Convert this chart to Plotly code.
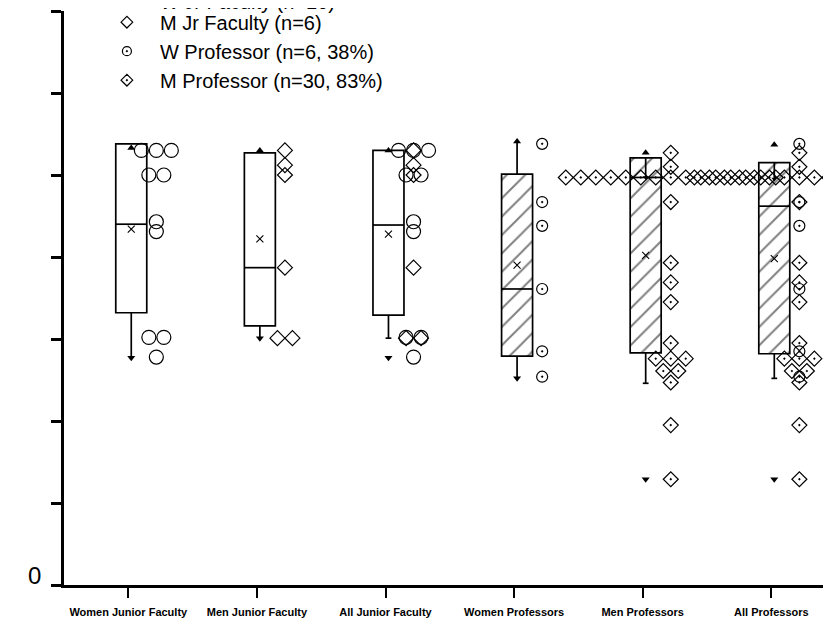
import plotly.graph_objects as go

# ---------------- data ----------------
categories = ["Women Junior Faculty", "Men Junior Faculty", "All Junior Faculty",
              "Women Professors", "Men Professors", "All Professors"]

q1 = [3.32, 3.16, 3.29, 2.79, 2.83, 2.82]
median = [4.40, 3.87, 4.39, 3.61, 4.97, 4.62]
q3 = [5.38, 5.27, 5.30, 5.01, 5.21, 5.15]
mean = [4.34, 4.22, 4.28, 3.90, 4.02, 3.98]
whisker_lo = [2.77, 3.01, 3.01, 2.52, 2.46, 2.52]
whisker_hi = [5.38, 5.27, 5.30, 5.41, 4.97, 4.95]
minimum = [2.77, 3.01, 2.77, 2.52, 1.29, 1.29]
maximum = [5.33, 5.30, 5.30, 5.41, 5.27, 5.37]
hatched = [False, False, False, True, True, True]

w_jr = [5.30, 5.30, 5.30, 5.00, 5.00, 4.43, 4.31, 3.02, 3.02, 2.78]
m_jr = [5.30, 5.12, 5.00, 3.87, 3.01, 3.01]
w_prof = [5.38, 4.67, 4.38, 3.61, 2.85, 2.54]
m_prof = [5.27, 5.10,
          4.97, 4.97, 4.97, 4.97, 4.97, 4.97, 4.97, 4.97,
          4.97, 4.97, 4.97, 4.97, 4.97, 4.97, 4.97,
          4.67, 3.93, 3.69, 3.45, 2.95, 2.76, 2.76, 2.76,
          2.61, 2.61, 2.47, 1.95, 1.29]

legend_names = ["W Jr Faculty (n=10)", "M Jr Faculty (n=6)",
                "W Professor (n=6, 38%)", "M Professor (n=30, 83%)"]

# ---------------- layout constants ----------------
BOX_SHIFT = 0.023
BOX_W = 0.241
PT_SHIFT = 0.218
PT_STEP = 0.1166
CAP_W = 0.045
FONT = "Liberation Sans, Arial, sans-serif"


def spread(values, center):
    counts = {}
    for v in values:
        counts[v] = counts.get(v, 0) + 1
    seen = {}
    xs = []
    for v in values:
        n = counts[v]
        k = seen.get(v, 0)
        seen[v] = k + 1
        xs.append(center + (k - (n - 1) / 2) * PT_STEP)
    return xs


idx = list(range(len(categories)))
cx = [i + BOX_SHIFT for i in idx]

fig = go.Figure()

# boxes (as floating bars so they can carry hatching)
fig.add_trace(go.Bar(
    x=cx, base=q1, y=[b - a for a, b in zip(q1, q3)], width=BOX_W,
    marker=dict(color="white", line=dict(color="black", width=1.7),
                pattern=dict(shape=["/" if h else "" for h in hatched],
                             size=13, solidity=0.15, fgcolor="black", bgcolor="white")),
    showlegend=False, hoverinfo="skip"))

# whiskers, medians, caps
lx, ly = [], []
for i in idx:
    lx += [cx[i], cx[i], None]
    ly += [q1[i], whisker_lo[i], None]
    if whisker_hi[i] != q3[i]:
        lx += [cx[i], cx[i], None]
        ly += [q3[i], whisker_hi[i], None]
    lx += [cx[i] - BOX_W / 2, cx[i] + BOX_W / 2, None]
    ly += [median[i], median[i], None]
    if whisker_lo[i] != minimum[i]:
        lx += [cx[i] - CAP_W / 2, cx[i] + CAP_W / 2, None]
        ly += [whisker_lo[i], whisker_lo[i], None]
fig.add_trace(go.Scatter(x=lx, y=ly, mode="lines", line=dict(color="black", width=1.7),
                         showlegend=False, hoverinfo="skip"))

# means
fig.add_trace(go.Scatter(x=cx, y=mean, mode="markers",
                         marker=dict(symbol="x-thin-open", size=7, color="black",
                                     line=dict(color="black", width=1.1)),
                         showlegend=False))
# max / min triangles
fig.add_trace(go.Scatter(x=cx, y=maximum, mode="markers",
                         marker=dict(symbol="triangle-up", size=7, color="black"), showlegend=False))
fig.add_trace(go.Scatter(x=cx, y=minimum, mode="markers",
                         marker=dict(symbol="triangle-down", size=7, color="black"), showlegend=False))
# inverted upper whisker arrowheads
ax_ = [cx[i] for i in idx if whisker_hi[i] < q3[i]]
ay_ = [whisker_hi[i] for i in idx if whisker_hi[i] < q3[i]]
fig.add_trace(go.Scatter(x=ax_, y=ay_, mode="markers",
                         marker=dict(symbol="triangle-down", size=5, color="black"), showlegend=False))

# individual responses
groups = [
    (w_jr, [0, 2], "circle-open", 14),
    (m_jr, [1, 2], "diamond-open", 11.5),
    (w_prof, [3, 5], "circle-open-dot", 11),
    (m_prof, [4, 5], "diamond-open-dot", 11.5),
]
for vals, cols, sym, sz in groups:
    xs, ys = [], []
    for c in cols:
        xs += spread(vals, c + PT_SHIFT)
        ys += vals
    fig.add_trace(go.Scatter(x=xs, y=ys, mode="markers",
                             marker=dict(symbol=sym, size=sz, color="black",
                                         line=dict(color="black", width=1.2)),
                             showlegend=False))

# legend entries (first one sits in its own legend box, partly cut by the top edge)
leg_sizes = [10, 9, 9, 9]
leg_boxes = ["legend2", "legend", "legend", "legend"]
for (vals, cols, sym, sz), name, ls, lg in zip(groups, legend_names, leg_sizes, leg_boxes):
    fig.add_trace(go.Scatter(x=[None], y=[None], mode="markers", name=name, legend=lg,
                             marker=dict(symbol=sym, size=ls, color="black",
                                         line=dict(color="black", width=1.2))))

legend_style = dict(x=0.039, xanchor="left", yanchor="top",
                    font=dict(size=20, family=FONT), bgcolor="rgba(0,0,0,0)",
                    tracegroupgap=0, itemwidth=56)

fig.update_layout(
    width=823, height=612,
    margin=dict(l=56, r=0, t=3, b=35, autoexpand=False),
    paper_bgcolor="white", plot_bgcolor="white",
    barmode="overlay",
    font=dict(family=FONT, color="black"),
    legend=dict(y=1.0145, **legend_style),
    legend2=dict(y=1.0515, **legend_style),
    xaxis=dict(range=[-0.5, 5.464], tickvals=idx, ticktext=categories,
               showline=True, linecolor="black", linewidth=2.5,
               ticks="outside", ticklen=10, tickwidth=2, tickcolor="black",
               tickfont=dict(size=11, family=FONT, weight="bold"),
               ticklabelstandoff=5,
               showgrid=False, zeroline=False),
    yaxis=dict(range=[0, 7], tickvals=list(range(8)),
               ticktext=["0", "", "", "", "", "", "", ""],
               showline=True, linecolor="black", linewidth=2.5,
               ticks="outside", ticklen=10, tickwidth=2.5, tickcolor="black",
               tickfont=dict(size=24, family=FONT),
               ticklabelshift=-9, ticklabelstandoff=5,
               showgrid=False, zeroline=False),
)

fig.write_html("out.html")
